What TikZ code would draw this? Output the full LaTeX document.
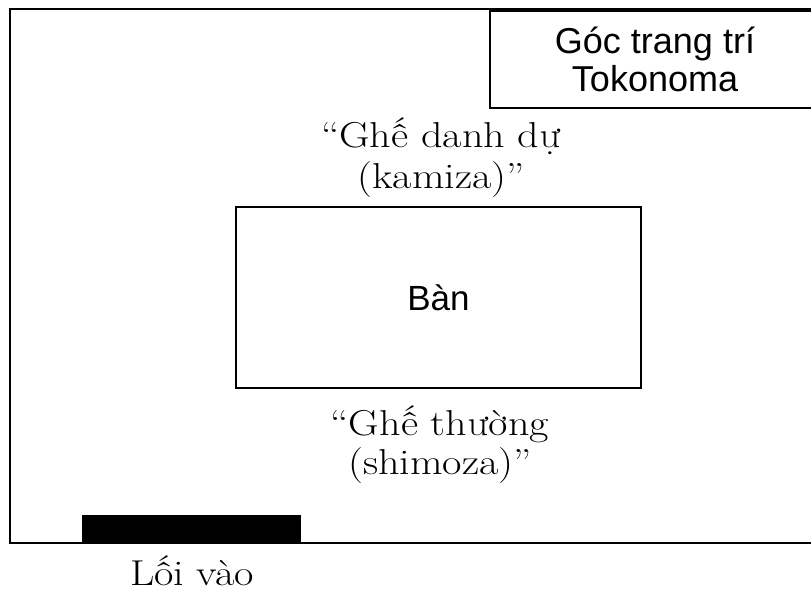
\documentclass[tikz,border=0pt]{standalone}
\usepackage{fontspec}
\newfontfamily\sansf{Liberation Sans}
\newfontfamily\serifwide[FakeStretch=1.17]{Latin Modern Roman}
\begin{document}
\begin{tikzpicture}[x=1pt,y=-1pt,
  wall/.style={draw=black, line width=2pt},
  box/.style={draw=black, line width=1.4pt},
  lab/.style={anchor=base, inner sep=0pt, align=center}]
\useasboundingbox (0,0) rectangle (811,600);
\clip (0,0) rectangle (811,600);
% room
\draw[wall] (10,9) rectangle (850,543);
% tokonoma
\draw[box] (490,11) rectangle (822,108);
\node[lab, font=\sansf\fontsize{36}{38}\selectfont] (toko) at (655,91) {Góc trang trí\\Tokonoma};
% table
\draw[box] (236,207) rectangle (641,388);
\node[lab, font=\sansf\fontsize{35}{38}\selectfont] (ban) at (438.5,310) {Bàn};
% seats
\node[lab, font=\serifwide\fontsize{36}{41}\selectfont] (kamiza) at (441,188) {“Ghế danh dự\\(kamiza)”};
\node[lab, font=\serifwide\fontsize{36}{39}\selectfont] (shimoza) at (440,474) {“Ghế thường\\(shimoza)”};
% entrance
\fill[black] (82,515) rectangle (301,543);
\node[lab, font=\serifwide\fontsize{36}{39}\selectfont] (loi) at (192,585) {Lối vào};
\end{tikzpicture}
\end{document}
